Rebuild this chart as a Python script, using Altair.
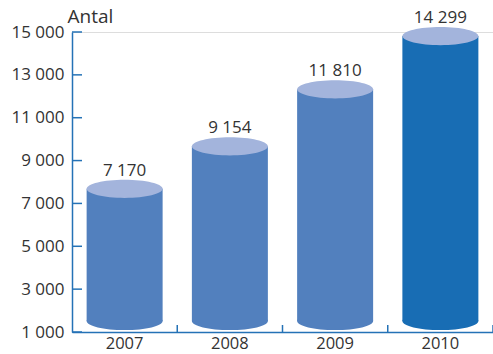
import altair as alt
import pandas as pd

years = ["2007", "2008", "2009", "2010"]
values = [7170, 9154, 11810, 14299]
y_ticks = [1000, 3000, 5000, 7000, 9000, 11000, 13000, 15000]

df = pd.DataFrame({"year": years, "value": values})
ticks_df = pd.DataFrame({"t": y_ticks})

FONT = "Open Sans"
AXIS_BLUE = "#2472b6"
BODY = "#5280be"
BODY_DARK = "#186db4"
TOP = "#a3b4dc"
TEXT = "#333333"
ELLIPSE = "M -1 0 A 1 0.24 0 1 0 1 0 A 1 0.24 0 1 0 -1 0 Z"

xenc = alt.X("year:N", sort=years,
             scale=alt.Scale(paddingInner=0, paddingOuter=0),
             axis=alt.Axis(title=None, labelAngle=0, ticks=False, domain=True,
                           domainColor=AXIS_BLUE, domainWidth=1.5,
                           labelFont=FONT, labelFontSize=16.5, labelColor=TEXT,
                           labelPadding=3, grid=False))
yscale = alt.Scale(domain=[1000, 15000], nice=False, zero=False)
yenc = alt.Y("value:Q", scale=yscale,
             axis=alt.Axis(values=y_ticks, format=",d", ticks=False, grid=False,
                           domain=True, domainColor=AXIS_BLUE, domainWidth=1.5,
                           labelFont=FONT, labelFontSize=17, labelColor=TEXT,
                           labelPadding=8, title="Antal", titleAngle=0,
                           titleAlign="left", titleBaseline="alphabetic",
                           titleX=-5, titleY=-10, titleFont=FONT,
                           titleFontSize=19, titleFontWeight="normal",
                           titleColor=TEXT))

base = alt.Chart(df)
body_color = alt.condition(alt.datum.year == "2010", alt.value(BODY_DARK), alt.value(BODY))

bottom = base.mark_point(shape=ELLIPSE, size=5776, filled=True, opacity=1,
                         strokeWidth=0, yOffset=-11).encode(
    x=xenc, y=alt.Y("base:Q", scale=yscale), color=body_color
).transform_calculate(base="1000")

body = base.mark_bar(width=76, yOffset=-11, y2Offset=-11).encode(
    x=xenc, y=yenc, y2=alt.datum(1000), color=body_color
)

top = base.mark_point(shape=ELLIPSE, size=5776, filled=True, opacity=1,
                      strokeWidth=0, yOffset=-11, color=TOP).encode(
    x=xenc, y=alt.Y("value:Q", scale=yscale)
)

labels = base.mark_text(font=FONT, fontSize=17, color=TEXT, align="center",
                        baseline="alphabetic", yOffset=-24).encode(
    x=xenc, y=alt.Y("value:Q", scale=yscale), text=alt.Text("value:Q", format=",d")
)

yticks = alt.Chart(ticks_df).mark_rule(color=AXIS_BLUE, strokeWidth=1.5).encode(
    y=alt.Y("t:Q", scale=yscale), x=alt.value(0), x2=alt.value(10)
)

xticks = base.mark_rule(color=AXIS_BLUE, strokeWidth=1.5).encode(
    x=alt.X("year:N", sort=years, bandPosition=1,
            scale=alt.Scale(paddingInner=0, paddingOuter=0)),
    y=alt.value(293), y2=alt.value(300)
)

chart = alt.layer(bottom, body, top, labels, yticks, xticks).properties(
    width=421, height=300, autosize="none",
    padding={"left": 72, "top": 32, "right": 0, "bottom": 22}
).configure_view(stroke=None).configure(
    locale={"number": {"decimal": ",", "thousands": " ", "grouping": [3],
                       "currency": ["", " kr"]}},
    background="white"
)

chart.save("out.html", embed_options={"renderer": "svg", "actions": False})
